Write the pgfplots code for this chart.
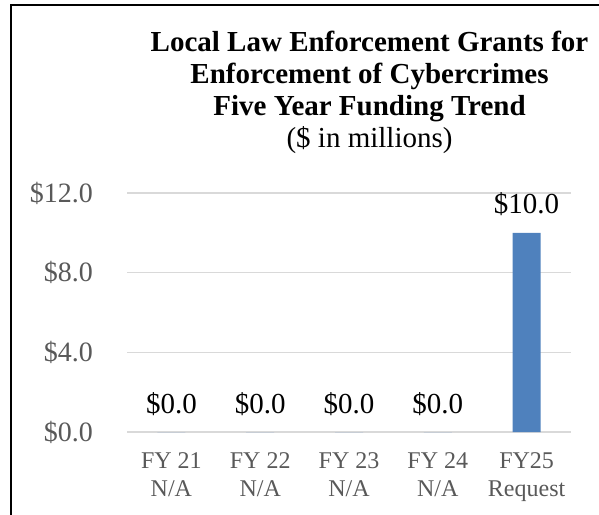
\documentclass[border=0pt]{standalone}
\usepackage{fontspec}
\setmainfont{Liberation Serif}
\usepackage{pgfplots}
\pgfplotsset{compat=1.18}
\definecolor{barblue}{RGB}{79,129,189}
\definecolor{ticklab}{RGB}{89,89,89}
\definecolor{gridc}{RGB}{217,217,217}
\begin{document}
\begin{tikzpicture}[x=1pt,y=1pt]
\useasboundingbox (0,0) rectangle (599,514);
\begin{scope}
\clip (0,0) rectangle (599,514);
\draw[line width=1.6pt,black] (11,-10) -- (11,509) -- (610,509);
\end{scope}
\node[anchor=base,font=\fontsize{29}{32}\selectfont\bfseries] at (369.5,462) {Local Law Enforcement Grants for};
\node[anchor=base,font=\fontsize{29}{32}\selectfont\bfseries] at (369.5,430.5) {Enforcement of Cybercrimes};
\node[anchor=base,font=\fontsize{29}{32}\selectfont\bfseries] at (369.5,398) {Five Year Funding Trend};
\node[anchor=base,font=\fontsize{29}{32}\selectfont] at (369.5,366) {(\$ in millions)};
\begin{axis}[
  at={(127pt,82pt)}, anchor=south west,
  scale only axis, width=444pt, height=239pt,
  xmin=-0.5, xmax=4.5, ymin=0, ymax=12,
  ybar, bar width=28pt,
  xtick={0,1,2,3,4},
  xticklabels={{FY 21\\N/A},{FY 22\\N/A},{FY 23\\N/A},{FY 24\\N/A},{FY25\\Request}},
  ytick={0,4,8,12},
  ymajorgrids, grid style={gridc, line width=1.2pt},
  axis line style={draw=none},
  major tick length=0pt,
  /pgf/number format/assume math mode=true,
  yticklabel={\$\pgfmathprintnumber[fixed,fixed zerofill,precision=1]{\tick}},
  yticklabel style={font=\fontsize{28}{30}\selectfont, text=ticklab, inner sep=0pt, xshift=-34pt},
  xticklabel style={font=\fontsize{24}{28}\selectfont, text=ticklab, align=center, anchor=north, inner sep=0pt, yshift=-20pt},
  nodes near coords={\$\pgfmathprintnumber[fixed,fixed zerofill,precision=1]{\pgfplotspointmeta}},
  nodes near coords style={font=\fontsize{29}{32}\selectfont, text=black, anchor=base, inner sep=0pt, yshift=19pt},
  clip=false,
]
\addplot[fill=barblue, draw=none] coordinates {(0,0) (1,0) (2,0) (3,0) (4,10)};
\end{axis}
\end{tikzpicture}
\end{document}
